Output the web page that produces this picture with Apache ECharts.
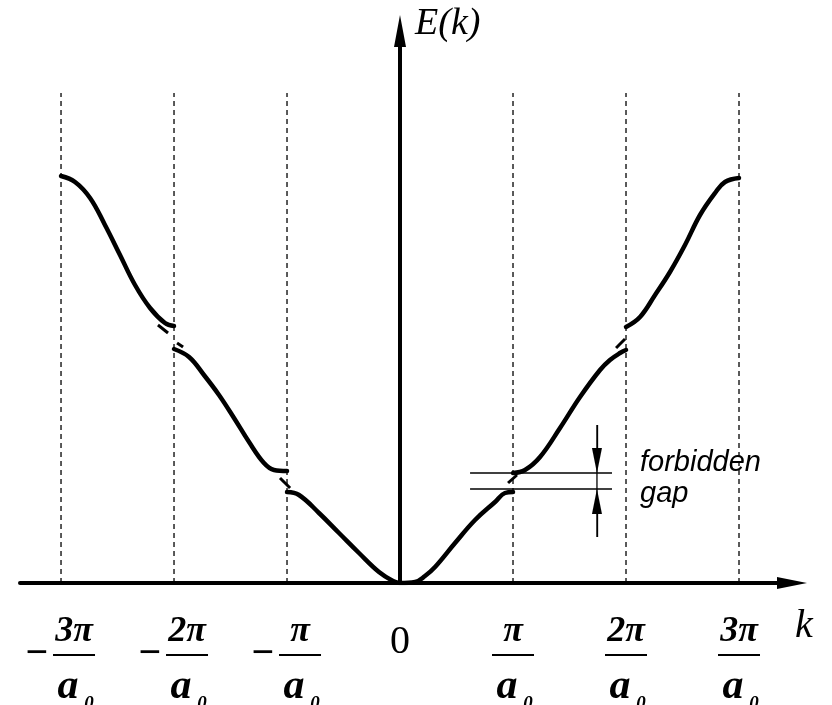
<!DOCTYPE html>
<html>
<head>
<meta charset="utf-8">
<title>E(k)</title>
<script src="https://cdn.jsdelivr.net/npm/echarts@6/dist/echarts.min.js"></script>
<style>
html,body{margin:0;padding:0;background:#fff;}
#chart{width:832px;height:705px;}
</style>
</head>
<body>
<div id="chart"></div>
<script>
// k in units of pi/a0, E in arbitrary units (0 at the k axis)
var tickK = [-3, -2, -1, 0, 1, 2, 3];
var tickNum = {'-3': '3π', '-2': '2π', '-1': 'π', '1': 'π', '2': '2π', '3': '3π'};
var boundaryK = [-3, -2, -1, 1, 2, 3];
var boundaryTop = 490;

var band1 = [[-1.0, 91], [-0.894, 88], [-0.717, 70], [-0.54, 50], [-0.363, 30], [-0.186, 11], [-0.062, 2], [0, 0],
  [0.133, 1], [0.221, 7], [0.31, 16], [0.487, 40], [0.664, 63], [0.841, 81], [0.929, 90], [1.0, 91]];
var band2Left = [[-2.0, 234], [-1.867, 226], [-1.735, 208], [-1.602, 188], [-1.469, 165], [-1.336, 141], [-1.204, 120], [-1.115, 113], [-1.0, 112]];
var band2Right = [[1.0, 110], [1.106, 113], [1.239, 126], [1.416, 155], [1.593, 186], [1.77, 213], [1.858, 223], [1.947, 230], [2.0, 233]];
var band3Left = [[-3.0, 407], [-2.876, 401], [-2.743, 385], [-2.611, 358], [-2.478, 328], [-2.345, 298], [-2.212, 275], [-2.08, 260], [-2.0, 257]];
var band3Right = [[2.0, 256], [2.124, 266], [2.257, 288], [2.389, 311], [2.522, 338], [2.655, 368], [2.788, 390], [2.876, 401], [3.0, 405]];

// little pieces of the free electron curve running through the gaps
var gapDashes = [
  [[0.956, 100], [1.035, 108]],
  [[1.912, 235], [1.991, 244]],
  [[-2.142, 258], [-2.053, 250]],
  [[-1.973, 240], [-1.92, 236]],
  [[-1.062, 105], [-0.973, 95]]
];

var gapUpper = 110;
var gapLower = 94;
var gapLineK = [0.62, 1.876];
var gapArrowK = 1.743;
var gapArrowE = [158, 46];

var serif = '"Liberation Serif", "Times New Roman", serif';

function tickLabel(v) {
  if (v === 0) return '{z|0}';
  var num = tickNum[v];
  if (v < 0) {
    return '{sp|}{num|' + num + '}\n{m|−}{g|}{bar|}\n{sp|}{a|a}{s|0}';
  }
  return '{num|' + num + '}\n{bar|}\n{a|a}{s|0}';
}

var series = [];

boundaryK.forEach(function (k) {
  series.push({
    type: 'line', symbol: 'none', silent: true, z: 1,
    data: [[k, 0], [k, boundaryTop]],
    lineStyle: {color: '#000', width: 1.3, type: [5, 4]}
  });
});

[band1, band2Left, band2Right, band3Left, band3Right].forEach(function (b) {
  series.push({
    type: 'line', symbol: 'none', silent: true, smooth: 0.4, z: 3,
    data: b,
    lineStyle: {color: '#000', width: 4.5, cap: 'round', join: 'round'}
  });
});

gapDashes.forEach(function (d) {
  series.push({
    type: 'line', symbol: 'none', silent: true, z: 3,
    data: d,
    lineStyle: {color: '#000', width: 3}
  });
});

[gapUpper, gapLower].forEach(function (e) {
  series.push({
    type: 'line', symbol: 'none', silent: true, z: 2,
    data: [[gapLineK[0], e], [gapLineK[1], e]],
    lineStyle: {color: '#000', width: 1.3}
  });
});

series.push({
  type: 'line', symbol: 'none', silent: true, z: 2,
  data: [[gapArrowK, gapArrowE[0]], [gapArrowK, gapArrowE[1]]],
  lineStyle: {color: '#000', width: 1.3},
  markLine: {
    silent: true,
    symbol: ['none', 'triangle'],
    symbolSize: [10, 25],
    label: {show: false},
    lineStyle: {color: '#000', width: 1.3, type: 'solid'},
    data: [
      [{coord: [gapArrowK, gapArrowE[0]]}, {coord: [gapArrowK, gapUpper + 12.5]}],
      [{coord: [gapArrowK, gapArrowE[1]]}, {coord: [gapArrowK, gapLower - 12.5]}]
    ]
  }
});

var chart = echarts.init(document.getElementById('chart'));
chart.setOption({
  animation: false,
  backgroundColor: '#fff',
  grid: {left: 20, right: 40, top: 31, bottom: 122, containLabel: false, outerBoundsMode: 'none'},
  xAxis: {
    type: 'value', min: -3.363, max: 3.469,
    name: 'k', nameLocation: 'end', nameGap: 12,
    nameTextStyle: {fontFamily: serif, fontStyle: 'italic', fontSize: 40, color: '#000',
      align: 'center', verticalAlign: 'top', padding: [23, 0, 0, 0], lineHeight: 40},
    splitLine: {show: false},
    axisTick: {show: false},
    axisLine: {lineStyle: {color: '#000', width: 4}, symbol: ['none', 'triangle'], symbolSize: [12, 30]},
    axisLabel: {
      customValues: tickK,
      margin: 31,
      color: '#000',
      formatter: tickLabel,
      rich: {
        num: {fontFamily: serif, fontStyle: 'italic', fontWeight: 'bold', fontSize: 36, lineHeight: 36, width: 42, align: 'center', color: '#000'},
        bar: {width: 42, height: 2, lineHeight: 10, backgroundColor: '#000'},
        m: {fontFamily: serif, fontWeight: 'bold', fontSize: 40, width: 20, lineHeight: 10, align: 'center', color: '#000'},
        g: {width: 6, lineHeight: 10},
        sp: {width: 26},
        a: {fontFamily: serif, fontStyle: 'italic', fontWeight: 'bold', fontSize: 42, lineHeight: 54, width: 30, align: 'center', color: '#000'},
        s: {fontFamily: serif, fontStyle: 'italic', fontWeight: 'bold', fontSize: 19, lineHeight: 26, width: 12, align: 'center', verticalAlign: 'bottom', color: '#000'},
        z: {fontFamily: serif, fontSize: 40, lineHeight: 56, color: '#000'}
      }
    }
  },
  yAxis: {
    type: 'value', min: 0, max: 552,
    name: 'E(k)', nameLocation: 'end', nameGap: 7,
    nameTextStyle: {fontFamily: serif, fontStyle: 'italic', fontSize: 38, color: '#000',
      align: 'left', verticalAlign: 'middle', padding: [0, 0, 0, 15]},
    splitLine: {show: false},
    axisTick: {show: false},
    axisLabel: {show: false},
    axisLine: {onZero: true, lineStyle: {color: '#000', width: 4}, symbol: ['none', 'triangle'], symbolSize: [12, 32]}
  },
  graphic: [{
    type: 'text', left: 640, top: 447, silent: true,
    style: {text: 'forbidden\ngap', fontFamily: '"Liberation Sans", Arial, sans-serif', fontStyle: 'italic',
      fontSize: 29, lineHeight: 31, fill: '#000'}
  }],
  series: series
});
</script>
</body>
</html>
